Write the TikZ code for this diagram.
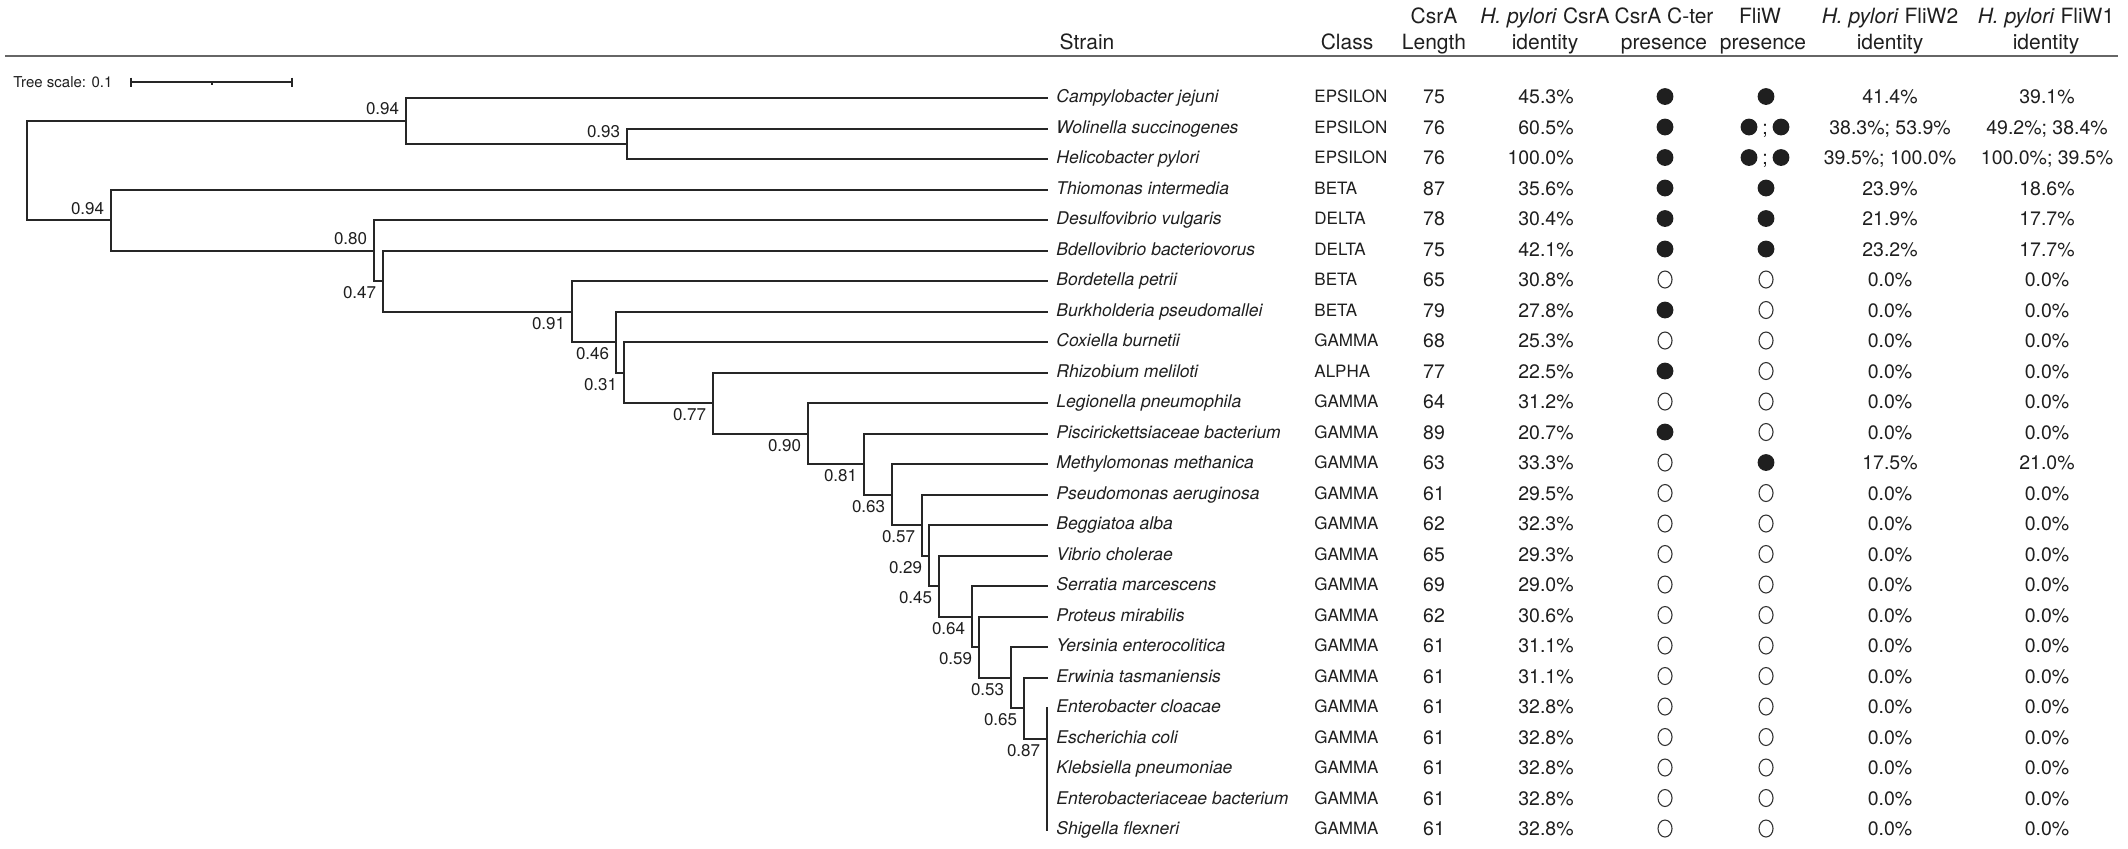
\documentclass[tikz,border=0pt]{standalone}
\usepackage{fontspec}
\setmainfont{TeX Gyre Heros}
\usetikzlibrary{shapes.geometric}
\tikzset{
  branch/.style={line width=1pt, draw=black!85, line join=miter, line cap=rect},
  head/.style={anchor=base, inner sep=0pt, text=black!88, font=\fontsize{10.5}{12}\selectfont},
  species/.style={anchor=base west, inner sep=0pt, text=black!88, font=\fontsize{8.75}{10}\selectfont\itshape},
  class/.style={anchor=base west, inner sep=0pt, text=black!88, font=\fontsize{8.5}{10}\selectfont},
  num/.style={anchor=base, inner sep=0pt, text=black!88, font=\fontsize{9.75}{11}\selectfont},
  supp/.style={anchor=base east, inner sep=0pt, text=black!88, font=\fontsize{8.5}{10}\selectfont},
  markf/.style={circle, fill=black!88, inner sep=0pt, minimum size=8.4pt},
  marko/.style={ellipse, draw=black!80, line width=0.55pt, inner sep=0pt, minimum width=7pt, minimum height=8.5pt},
}
\begin{document}
\begin{tikzpicture}[x=0.5pt, y=-0.5pt]
\useasboundingbox (0,0) rectangle (2128,848);

% header
\coordinate (ruleL) at (5,56);
\coordinate (ruleR) at (2118,56);
\draw[line width=1.1pt, draw=black!60] (ruleL) -- (ruleR);
\node[head] (hStrain) at (1087,49.5) {Strain};
\node[head] (hClass) at (1347,49.5) {Class};
\node[head] (hLenA) at (1434,23.5) {CsrA};
\node[head] (hLenB) at (1434,49.5) {Length};
\node[head] (hIdA) at (1545,23.5) {\textit{H. pylori} CsrA};
\node[head] (hIdB) at (1545,49.5) {identity};
\node[head] (hCtA) at (1664,23.5) {CsrA C-ter};
\node[head] (hCtB) at (1664,49.5) {presence};
\node[head] (hFwA) at (1760,23.5) {FliW};
\node[head] (hFwB) at (1763,49.5) {presence};
\node[head] (hW2A) at (1890,23.5) {\textit{H. pylori} FliW2};
\node[head] (hW2B) at (1890,49.5) {identity};
\node[head] (hW1A) at (2046,23.5) {\textit{H. pylori} FliW1};
\node[head] (hW1B) at (2046,49.5) {identity};

% tree scale
\node[anchor=base west, inner sep=0pt, text=black!88, font=\fontsize{7.5}{9}\selectfont] (tscale) at (13,87) {Tree scale: 0.1};
\coordinate (sbL) at (131,82);
\coordinate (sbM) at (212,82);
\coordinate (sbR) at (292,82);
\draw[line width=0.9pt, draw=black!85] (sbL) -- (sbR);
\draw[line width=0.9pt, draw=black!85] ([shift={(0,-4.5)}]sbL) -- ([shift={(0,4.5)}]sbL);
\draw[line width=0.9pt, draw=black!85] ([shift={(0,-4.5)}]sbR) -- ([shift={(0,4.5)}]sbR);
\draw[line width=0.9pt, draw=black!85] (sbM) -- ([shift={(0,3)}]sbM);

% tree nodes
\foreach \i in {0,...,24}
  \coordinate (l\i) at (1047,98+30.5*\i);
\coordinate (nR) at (27,170.45);
\coordinate (nA) at (406,120.9);
\coordinate (nE) at (627,143.75);
\coordinate (nB) at (111,220);
\coordinate (nC) at (374,250.5);
\coordinate (nD) at (383,281);
\coordinate (nF) at (572,311.5);
\coordinate (nG) at (616,342);
\coordinate (nH) at (624,372.5);
\coordinate (nI) at (713,403);
\coordinate (nJ) at (808,433.5);
\coordinate (nK) at (864,464);
\coordinate (nL) at (892,494.5);
\coordinate (nM) at (922,525);
\coordinate (nN) at (929,555.5);
\coordinate (nO) at (939,586);
\coordinate (nP) at (972,616.5);
\coordinate (nQ) at (979,647);
\coordinate (nS) at (1011,677.5);
\coordinate (nT) at (1024,708);
\coordinate (nU) at (1047,738.5);

\draw[branch] (nA) -| (nR) |- (nB);
\draw[branch] (l0) -| (nA) |- (nE);
\draw[branch] (l1) -| (nE) |- (l2);
\draw[branch] (l3) -| (nB) |- (nC);
\draw[branch] (l4) -| (nC) |- (nD);
\draw[branch] (l5) -| (nD) |- (nF);
\draw[branch] (l6) -| (nF) |- (nG);
\draw[branch] (l7) -| (nG) |- (nH);
\draw[branch] (l8) -| (nH) |- (nI);
\draw[branch] (l9) -| (nI) |- (nJ);
\draw[branch] (l10) -| (nJ) |- (nK);
\draw[branch] (l11) -| (nK) |- (nL);
\draw[branch] (l12) -| (nL) |- (nM);
\draw[branch] (l13) -| (nM) |- (nN);
\draw[branch] (l14) -| (nN) |- (nO);
\draw[branch] (l15) -| (nO) |- (nP);
\draw[branch] (l16) -| (nP) |- (nQ);
\draw[branch] (l17) -| (nQ) |- (nS);
\draw[branch] (l18) -| (nS) |- (nT);
\draw[branch] (l19) -| (nT) |- (nU);
\draw[branch] (l20) -- (l24);

% support values
\foreach \n/\v in {A/0.94,E/0.93,B/0.94,C/0.80}
  \node[supp] (s\n) at ([shift={(-6.5,-6)}]n\n) {\v};
\foreach \n/\v in {D/0.47,F/0.91,G/0.46,H/0.31,I/0.77,J/0.90,K/0.81,L/0.63,M/0.57,N/0.29,O/0.45,P/0.64,Q/0.59,S/0.53,T/0.65,U/0.87}
  \node[supp] (s\n) at ([shift={(-6.5,17.5)}]n\n) {\v};

% table rows
\foreach \i/\sp/\cl/\len/\idt/\ct/\fw/\wa/\wb in {
0/Campylobacter jejuni/EPSILON/75/45.3/f/f/41.4\%/39.1\%,
1/Wolinella succinogenes/EPSILON/76/60.5/f/f/38.3\%; 53.9\%/49.2\%; 38.4\%,
2/Helicobacter pylori/EPSILON/76/100.0/f/f/39.5\%; 100.0\%/100.0\%; 39.5\%,
3/Thiomonas intermedia/BETA/87/35.6/f/f/23.9\%/18.6\%,
4/Desulfovibrio vulgaris/DELTA/78/30.4/f/f/21.9\%/17.7\%,
5/Bdellovibrio bacteriovorus/DELTA/75/42.1/f/f/23.2\%/17.7\%,
6/Bordetella petrii/BETA/65/30.8/o/o/0.0\%/0.0\%,
7/Burkholderia pseudomallei/BETA/79/27.8/f/o/0.0\%/0.0\%,
8/Coxiella burnetii/GAMMA/68/25.3/o/o/0.0\%/0.0\%,
9/Rhizobium meliloti/ALPHA/77/22.5/f/o/0.0\%/0.0\%,
10/Legionella pneumophila/GAMMA/64/31.2/o/o/0.0\%/0.0\%,
11/Piscirickettsiaceae bacterium/GAMMA/89/20.7/f/o/0.0\%/0.0\%,
12/Methylomonas methanica/GAMMA/63/33.3/o/f/17.5\%/21.0\%,
13/Pseudomonas aeruginosa/GAMMA/61/29.5/o/o/0.0\%/0.0\%,
14/Beggiatoa alba/GAMMA/62/32.3/o/o/0.0\%/0.0\%,
15/Vibrio cholerae/GAMMA/65/29.3/o/o/0.0\%/0.0\%,
16/Serratia marcescens/GAMMA/69/29.0/o/o/0.0\%/0.0\%,
17/Proteus mirabilis/GAMMA/62/30.6/o/o/0.0\%/0.0\%,
18/Yersinia enterocolitica/GAMMA/61/31.1/o/o/0.0\%/0.0\%,
19/Erwinia tasmaniensis/GAMMA/61/31.1/o/o/0.0\%/0.0\%,
20/Enterobacter cloacae/GAMMA/61/32.8/o/o/0.0\%/0.0\%,
21/Escherichia coli/GAMMA/61/32.8/o/o/0.0\%/0.0\%,
22/Klebsiella pneumoniae/GAMMA/61/32.8/o/o/0.0\%/0.0\%,
23/Enterobacteriaceae bacterium/GAMMA/61/32.8/o/o/0.0\%/0.0\%,
24/Shigella flexneri/GAMMA/61/32.8/o/o/0.0\%/0.0\%}{
  \pgfmathsetmacro\yy{98+30.5*\i}
  \node[species] (sp\i) at (1056,\yy+4.5) {\sp};
  \node[class] (cl\i) at (1314,\yy+4.5) {\cl};
  \node[num] (len\i) at (1434,\yy+5.5) {\len};
  \node[num, anchor=base east] (id\i) at (1574,\yy+5.5) {\idt\%};
  \node[mark\ct] (ct\i) at (1665,\yy-1.5) {};
  \ifnum\i=1\relax\else\ifnum\i=2\relax\else
    \node[mark\fw] (fw\i) at (1766,\yy-1.5) {};
  \fi\fi
  \node[num] (wa\i) at (1890,\yy+5.5) {\wa};
  \node[num] (wb\i) at (2047,\yy+5.5) {\wb};
}

% double FliW
\foreach \i in {1,2}{
  \pgfmathsetmacro\yy{98+30.5*\i}
  \node[markf] (fw\i a) at (1749,\yy-1.5) {};
  \node[num] (fw\i s) at (1765,\yy+5.5) {;};
  \node[markf] (fw\i b) at (1781,\yy-1.5) {};
}
\end{tikzpicture}
\end{document}
